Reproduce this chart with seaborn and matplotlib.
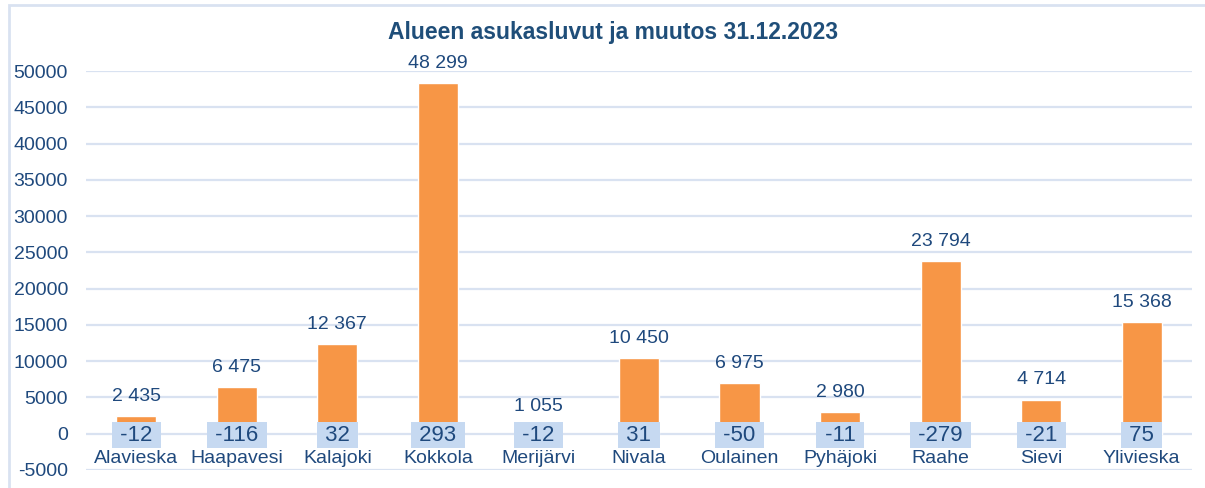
import matplotlib
matplotlib.use("Agg")
import matplotlib.pyplot as plt
import seaborn as sns
import pandas as pd
from matplotlib.patches import Rectangle

categories = ["Alavieska", "Haapavesi", "Kalajoki", "Kokkola", "Merijärvi", "Nivala",
              "Oulainen", "Pyhäjoki", "Raahe", "Sievi", "Ylivieska"]
population = [2435, 6475, 12367, 48299, 1055, 10450, 6975, 2980, 23794, 4714, 15368]
change = [-12, -116, 32, 293, -12, 31, -50, -11, -279, -21, 75]
yticks = [-5000, 0, 5000, 10000, 15000, 20000, 25000, 30000, 35000, 40000, 45000, 50000]
title = "Alueen asukasluvut ja muutos 31.12.2023"

sns.set_theme(style="white")
plt.rcParams["font.family"] = ["Liberation Sans", "DejaVu Sans"]

TXT = "#1F497D"
GRID = "#D9E2F1"
ORANGE = "#F79646"
BOX = "#C6D9F1"
FS = 14

df = pd.DataFrame({"kunta": categories, "asukkaat": population, "muutos": change})

fig = plt.figure(figsize=(12.05, 4.88), dpi=100)
W, H = 1205, 488
ax = fig.add_axes([86 / W, (H - 470) / H, (1192 - 86) / W, (470 - 71) / H])

sns.barplot(data=df, x="kunta", y="asukkaat", color=ORANGE, saturation=1, width=0.4, ax=ax)
sns.barplot(data=df, x="kunta", y="muutos", color=BOX, saturation=1, width=0.4, ax=ax)

ax.set_ylim(-5000, 50000)
ax.set_xlim(-0.5, len(categories) - 0.5)
ax.set_yticks(yticks)
ax.set_yticklabels([str(v) for v in yticks])
ax.tick_params(axis="y", length=0, pad=13, labelsize=FS, labelcolor=TXT)
ax.set_xticks([])
ax.set_xlabel("")
ax.set_ylabel("")
for s in ax.spines.values():
    s.set_visible(False)
ax.yaxis.grid(True, color=GRID, linewidth=1.6)
ax.set_axisbelow(True)

fmt = lambda v: f"{v:,}".replace(",", " ")
for i, (p, c, name) in enumerate(zip(population, change, categories)):
    ax.annotate(fmt(p), (i, p), xytext=(0, 8), textcoords="offset points",
                ha="center", va="bottom", fontsize=FS, color=TXT, annotation_clip=False)
    ax.text(i, -200, f" {c} ", ha="center", va="center", fontsize=16, color=TXT,
            bbox=dict(boxstyle="square,pad=0.1", facecolor=BOX, edgecolor="none"))
    ax.text(i, -3350, name, ha="center", va="center", fontsize=FS, color=TXT)

fig.text(613 / W, (H - 33) / H, title, ha="center", va="center", fontsize=16.5,
         fontweight="bold", color="#1F4E79")

fig.patches.append(Rectangle((8.5 / W, -0.1), 1.2, (H - 5.5) / H + 0.1, transform=fig.transFigure,
                             fill=False, edgecolor=GRID, linewidth=2))

fig.savefig("out.png", dpi=100)
